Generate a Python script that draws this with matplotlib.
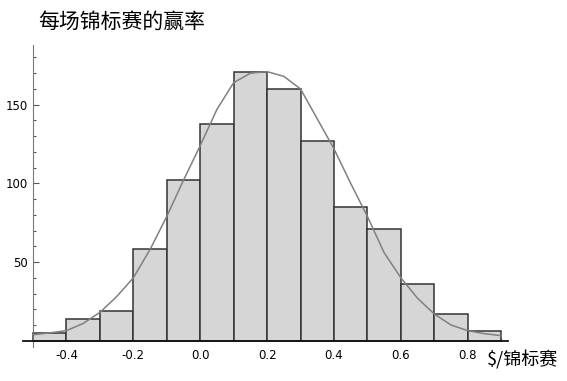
import numpy as np
import matplotlib.pyplot as plt
from matplotlib.ticker import MultipleLocator, FixedLocator

plt.rcParams['font.family'] = ['Noto Sans CJK SC', 'DejaVu Sans']

# histogram bins ($/tournament) and counts
bin_left = [-0.5, -0.4, -0.3, -0.2, -0.1, 0.0, 0.1, 0.2, 0.3, 0.4, 0.5, 0.6, 0.7, 0.8]
counts = [5, 14, 19, 58, 102, 138, 171, 160, 127, 85, 71, 36, 17, 6]

# fitted curve, read point by point
curve_x = [-0.5, -0.45, -0.4, -0.35, -0.3, -0.25, -0.2, -0.15, -0.1, -0.05, 0.0,
           0.05, 0.1, 0.15, 0.2, 0.25, 0.3, 0.35, 0.4, 0.45, 0.5, 0.55, 0.6,
           0.65, 0.7, 0.75, 0.8, 0.85, 0.9]
curve_y = [3.8, 5, 6.4, 11, 18, 28, 40, 58, 79, 102, 124,
           147, 164, 170, 171, 168, 160, 141, 122, 100, 79, 56, 40,
           27, 17, 10, 6.4, 4.5, 3.2]

x_ticks = [-0.4, -0.2, 0.0, 0.2, 0.4, 0.6, 0.8]
y_ticks = [50, 100, 150]

fig = plt.figure(figsize=(5.67, 3.81), dpi=100)
ax = fig.add_axes([0.0406, 0.0892, 0.855, 0.793])

ax.bar(bin_left, counts, width=0.1, align='edge', color='#d6d6d6',
       edgecolor='#333333', linewidth=1.1, zorder=2)
ax.plot(curve_x, curve_y, color='#808080', lw=1.1, zorder=3)

ax.set_xlim(-0.53, 0.92)
ax.set_ylim(-4, 188)

for s in ['top', 'right']:
    ax.spines[s].set_visible(False)
ax.spines['left'].set_position(('data', -0.5))
ax.spines['bottom'].set_position(('data', 0))
ax.spines['left'].set_color('#777777')
ax.spines['bottom'].set_color('#111111')
ax.spines['bottom'].set_linewidth(1.3)
ax.spines['bottom'].set_zorder(4)

ax.xaxis.set_major_locator(FixedLocator(x_ticks))
ax.xaxis.set_minor_locator(MultipleLocator(0.05))
ax.set_xticklabels(['%.1f' % v for v in x_ticks])
ax.yaxis.set_major_locator(FixedLocator(y_ticks))
ax.yaxis.set_minor_locator(MultipleLocator(10))

ax.tick_params(axis='both', which='both', direction='in', colors='#555555',
               labelcolor='black', labelsize=8.5)
ax.tick_params(axis='both', which='major', length=4, width=0.8)
ax.tick_params(axis='both', which='minor', length=2, width=0.8)
ax.tick_params(axis='x', pad=6)
ax.tick_params(axis='y', pad=4)
for lab in ax.get_xticklabels() + ax.get_yticklabels():
    lab.set_family('DejaVu Sans')

fig.text(38 / 567, 1 - 22 / 381, '每场锦标赛的赢率', fontsize=15, fontweight='medium',
         va='center', ha='left')
fig.text(487 / 567, 1 - 360 / 381, '$/锦标赛', fontsize=13, fontweight='medium',
         va='center', ha='left')

fig.savefig('out.png', dpi=100)
